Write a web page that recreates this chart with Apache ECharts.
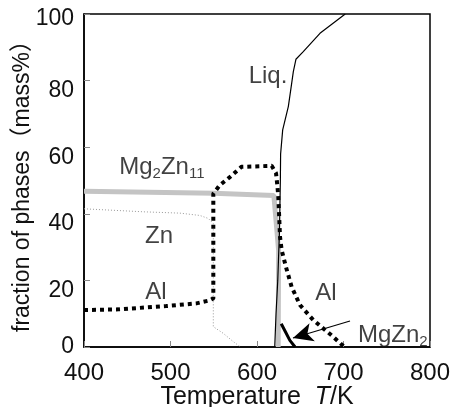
<!DOCTYPE html>
<html>
<head>
<meta charset="utf-8">
<script src="https://cdn.jsdelivr.net/npm/echarts@6/dist/echarts.min.js"></script>
<style>
  html, body { margin: 0; padding: 0; background: #fff; }
  #chart { width: 457px; height: 407px; }
</style>
</head>
<body>
<div id="chart"></div>
<script>
// phase fractions [T (K), mass%]
var liq = [[620.5, 0], [622, 10], [624, 20], [626, 35], [627, 50], [627.3, 58], [629.7, 65.2], [636.2, 72.2], [639, 77.2], [642, 82.7], [645, 86.4], [653.5, 88.7], [672.8, 94.2], [702, 100]];
var mg2zn11 = [[400, 46.8], [550, 46.2], [619.5, 45.5], [625, 29], [624.5, 0]];
var alPhase = [[400, 11.1], [440, 11.3], [495, 12.3], [530, 13.1], [545, 14], [549.5, 14.6], [549.5, 46], [557, 48.6], [569, 51.1], [582, 54.1], [617, 54.4], [622, 52.2], [623.5, 48.6], [624.6, 45.1], [625.5, 40], [626.6, 33.1], [628.5, 29.1], [633.4, 24.1], [640, 18.1], [649.7, 12.6], [665, 8.1], [688, 3.1], [701, 0]];
var znPhase = [[400, 41.5], [468.6, 40.6], [511, 40.2], [534, 39.5], [543.7, 38.6], [549.5, 37.1], [549.5, 6.1], [561, 4.1], [572.6, 1.6], [581, 0]];
var mgzn2 = [[628, 7], [633, 4.5], [638, 2], [644, 0]];

// labels [T, mass%, text]
var notes = [
  [612.7, 81.4, 'Liq.'],
  [490, 53.8, 'Mg{s|2}Zn{s|11}'],
  [486.7, 33.3, 'Zn'],
  [483, 16.5, 'Al'],
  [679.8, 16.2, 'Al'],
  [757, 3.6, 'MgZn{s|2}']
];
var arrowFrom = [707.5, 7.8];
var arrowTo = [641.6, 2.7];

var xTicks = [400, 500, 600, 700, 800];

var chart = echarts.init(document.getElementById('chart'));
var option = {
  animation: false,
  grid: {
    left: 84, right: 27, top: 14, bottom: 60,
    outerBoundsMode: 'none',
    containLabel: false,
    show: true, borderColor: '#000', borderWidth: 1.5
  },
  xAxis: {
    type: 'value',
    min: 400, max: 800, interval: 100,
    name: 'Temperature  {i|T}/K',
    nameLocation: 'middle',
    nameGap: 38,
    nameMoveOverlap: false,
    nameTextStyle: {
      fontFamily: 'Liberation Sans', fontSize: 25, color: '#111',
      rich: { i: { fontStyle: 'italic', fontFamily: 'Liberation Sans', fontSize: 25, color: '#111' } }
    },
    axisLine: { lineStyle: { color: '#000', width: 1.5 } },
    axisTick: { inside: true, length: 6, lineStyle: { color: '#888' } },
    splitLine: { show: false },
    axisLabel: {
      margin: 14, fontSize: 24, color: '#111',
      fontFamily: 'Liberation Sans',
      formatter: function (v) { return xTicks.indexOf(v) >= 0 ? v : ''; }
    }
  },
  yAxis: {
    type: 'value',
    min: 0, max: 100, interval: 20,
    name: 'fraction of phases（mass%）',
    nameLocation: 'middle',
    nameGap: 50,
    nameMoveOverlap: false,
    nameTextStyle: { fontFamily: '"Liberation Sans", "Noto Sans CJK JP"', fontSize: 23, color: '#111' },
    axisLine: { lineStyle: { color: '#000', width: 1.5 } },
    axisTick: { inside: true, length: 6, lineStyle: { color: '#888' } },
    splitLine: { show: false },
    axisLabel: {
      margin: 10, color: '#111',
      formatter: function (v) {
        if (v === 0) return '{v|0}';
        if (v === 100) return '{g10| }\n{v|100}';
        return '{g20| }\n{v|' + v + '}';
      },
      rich: {
        v: { fontFamily: 'Liberation Sans', fontSize: 23, color: '#111', lineHeight: 26 },
        g10: { fontSize: 8, lineHeight: 10 },
        g20: { fontSize: 8, lineHeight: 20 }
      }
    }
  },
  series: [
    {
      name: 'Zn', type: 'line', data: znPhase, symbol: 'none',
      lineStyle: { color: '#999', width: 1, type: [1, 2] }
    },
    {
      name: 'Mg2Zn11', type: 'line', data: mg2zn11, symbol: 'none',
      lineStyle: { color: '#c4c4c4', width: 5 }
    },
    {
      name: 'Liq', type: 'line', data: liq, symbol: 'none',
      lineStyle: { color: '#000', width: 1.2 }
    },
    {
      name: 'Al', type: 'line', data: alPhase, symbol: 'none',
      lineStyle: { color: '#000', width: 4, type: [4, 4], cap: 'butt' }
    },
    {
      name: 'MgZn2', type: 'line', data: mgzn2, symbol: 'none',
      lineStyle: { color: '#000', width: 3 },
      markLine: {
        silent: true,
        symbol: ['none', 'arrow'],
        symbolSize: [14, 20],
        label: { show: false },
        lineStyle: { color: '#000', width: 1.2, type: 'solid' },
        data: [[{ coord: arrowFrom }, { coord: arrowTo }]]
      }
    },
    {
      name: 'notes', type: 'scatter', symbolSize: 0,
      data: notes.map(function (n) { return { value: [n[0], n[1]], name: n[2] }; }),
      label: {
        show: true, position: 'inside',
        formatter: function (p) { return p.name; },
        fontFamily: 'Liberation Sans', fontSize: 24, color: '#111',
        rich: { s: { fontFamily: 'Liberation Sans', fontSize: 15, color: '#111', verticalAlign: 'bottom', padding: [13, 0, 0, 0] } }
      }
    }
  ]
};
chart.setOption(option);
</script>
</body>
</html>
